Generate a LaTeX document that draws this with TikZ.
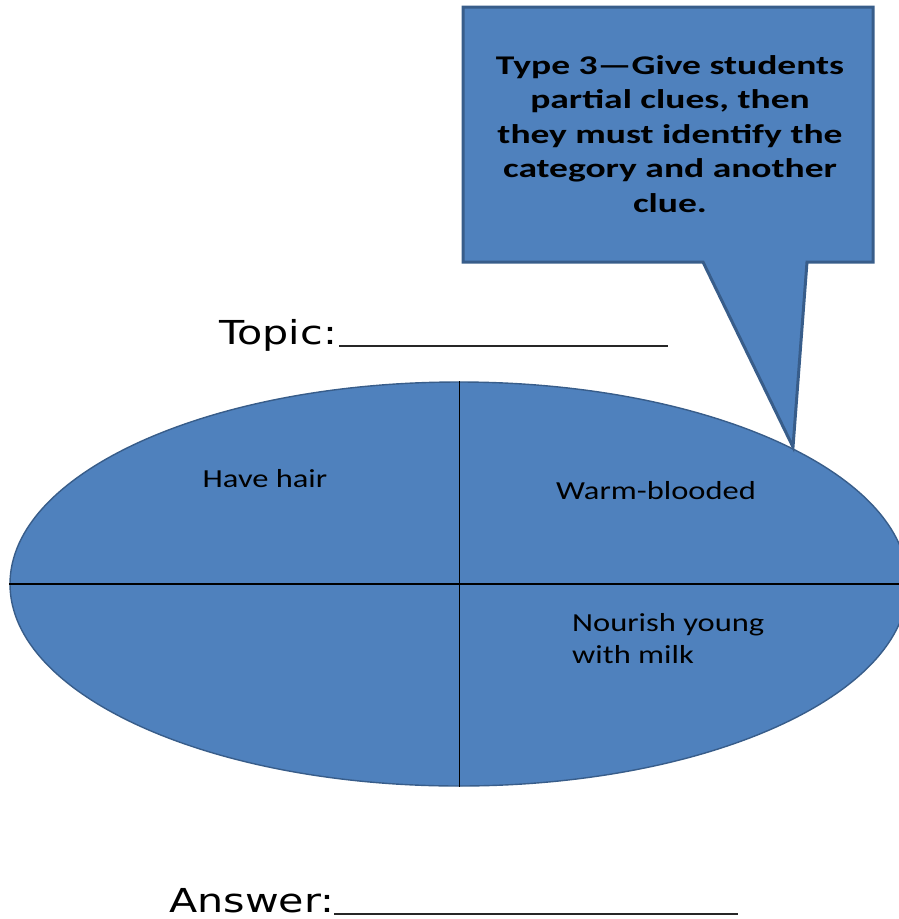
\documentclass[tikz,border=0pt]{standalone}
\usepackage{fontspec}
\setmainfont{Carlito}
\newfontfamily\calloutfont[FakeStretch=1.39]{Carlito}
\newfontfamily\labelfont[FakeStretch=1.25]{Carlito}
\newfontfamily\formfont[FakeStretch=1.25]{DejaVu Sans}
\usetikzlibrary{shapes.geometric}
\definecolor{bluefill}{HTML}{4F81BD}
\definecolor{blueedge}{HTML}{385D8A}
\tikzset{
  shapefill/.style={fill=bluefill, draw=blueedge},
  divider/.style={draw=black, line width=1.2pt},
  quadlabel/.style={font=\labelfont\fontsize{26}{32}\selectfont, inner sep=0pt, text=black},
  calloutlabel/.style={font=\calloutfont\bfseries\fontsize{27}{34.5}\selectfont, align=center, inner sep=0pt, text=black},
  formlabel/.style={font=\formfont\fontsize{33}{38}\selectfont, inner sep=0pt, text=black},
  blank/.style={draw=black!85, line width=1.8pt}
}
\begin{document}
\begin{tikzpicture}[x=1pt,y=-1pt]
\useasboundingbox (0,0) rectangle (899,919);
% ellipse
\node[ellipse, shapefill, line width=1.4pt, minimum width=898pt, minimum height=404pt, inner sep=0pt] (ell) at (459,584) {};
\draw[divider] (ell.west) -- (ell.east);
\draw[divider, line width=1pt] (ell.north) -- (ell.south);
% quadrant labels
\node[quadlabel] (hair) at (265,479) {Have hair};
\node[quadlabel] (warm) at (656,491) {Warm-blooded};
\node[quadlabel, align=left, anchor=base west] (milk) at (572,663) {Nourish young\\with milk};
% callout
\coordinate (c1) at (463,7);
\coordinate (c2) at (873,7);
\coordinate (c3) at (873,262);
\coordinate (c4) at (807,262);
\coordinate (tip) at (793,447);
\coordinate (c5) at (703,262);
\coordinate (c6) at (463,262);
\draw[shapefill, line width=3pt, line join=miter] (c1) -- (c2) -- (c3) -- (c4) -- (tip) -- (c5) -- (c6) -- cycle;
\node[calloutlabel] (ctext) at (670,134) {Type 3—Give students\\partial clues, then\\they must identify the\\category and another\\clue.};
% topic and answer
\node[formlabel, anchor=base west] (topic) at (219,344) {Topic:};
\coordinate (topicstart) at (339,346);
\coordinate (topicend) at (668,346);
\draw[blank] (topicstart) -- (topicend);
\node[formlabel, anchor=base west] (answer) at (169,912) {Answer:};
\coordinate (answerstart) at (334,914);
\coordinate (answerend) at (738,914);
\draw[blank] (answerstart) -- (answerend);
\end{tikzpicture}
\end{document}
